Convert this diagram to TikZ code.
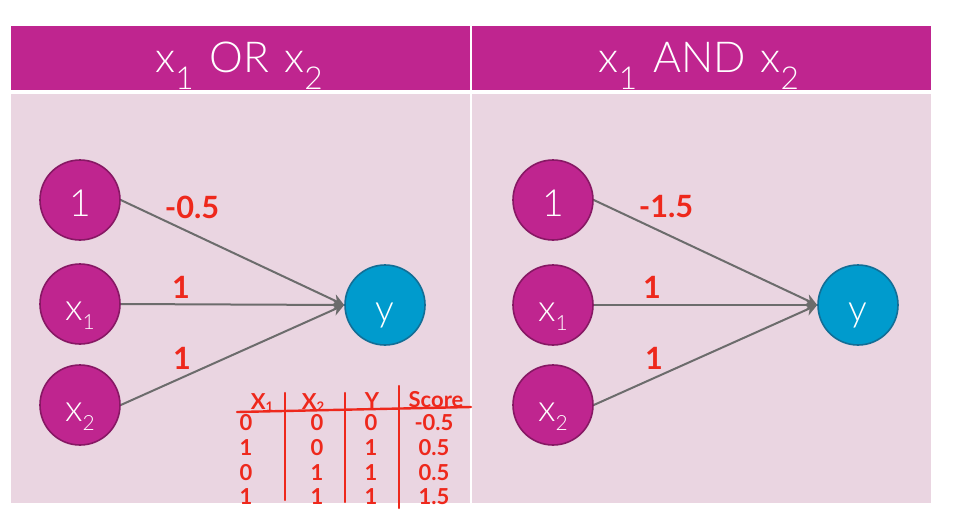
\documentclass[tikz,border=0pt]{standalone}
\usepackage{fontspec}
\setmainfont{Lato}
\newfontfamily\thinfont{Lato Light}
\usetikzlibrary{arrows.meta}
\definecolor{plum}{RGB}{191,37,143}
\definecolor{plumdark}{RGB}{135,24,100}
\definecolor{panelpink}{RGB}{234,213,225}
\definecolor{sky}{RGB}{0,155,205}
\definecolor{skydark}{RGB}{18,110,150}
\definecolor{ink}{RGB}{238,40,28}
\definecolor{wiregray}{RGB}{108,108,108}
\newcommand{\hsub}[1]{\raisebox{-0.42em}{\scalebox{0.74}{#1}}}
\newcommand{\nsub}[1]{\raisebox{-0.25em}{\scalebox{0.56}{#1}}}
\newcommand{\tsub}[1]{\raisebox{-0.1em}{\scalebox{0.6}{#1}}}

\begin{document}
\begin{tikzpicture}[x=0.75pt,y=-0.75pt,
  neuron/.style={circle,draw=plumdark,fill=plum,line width=1.2pt,minimum size=60pt,
    inner sep=0pt,text=white,font=\thinfont\fontsize{28}{32}\selectfont,text height=24pt,text depth=0pt},
  outneuron/.style={neuron,draw=skydark,fill=sky},
  link/.style={draw=wiregray,line width=1.5pt,-{Stealth[length=9pt,width=9pt]}},
  weight/.style={text=ink,font=\bfseries\fontsize{23}{26}\selectfont,anchor=base,inner sep=0pt},
  cell/.style={text=ink,font=\bfseries\fontsize{16.5}{19}\selectfont,anchor=base,inner sep=0pt},
  title/.style={text=white,font=\thinfont\fontsize{32}{36}\selectfont,anchor=base,inner sep=0pt}]
  \useasboundingbox (0,0) rectangle (953,522);
  % header bars and panels
  \fill[plum] (11,26) rectangle (470,90);
  \fill[plum] (472,26) rectangle (931,90);
  \fill[panelpink] (11,94) rectangle (470,503);
  \fill[panelpink] (472,94) rectangle (931,503);
  \node[title] (tOr) at (239,72) {x\hsub{1}\hspace{0.1em} OR\hspace{0.08em} x\hsub{2}};
  \node[title] (tAnd) at (699,72) {x\hsub{1}\hspace{0.1em} AND\hspace{0.08em} x\hsub{2}};
  % OR perceptron
  \node[neuron] (bL) at (80,200) {1};
  \node[neuron] (xaL) at (80,304) {x\nsub{1}};
  \node[neuron] (xbL) at (80,405) {x\nsub{2}};
  \node[outneuron] (yL) at (385,305) {y};
  \foreach \n in {bL,xaL,xbL} \draw[link] (\n.east) -- (yL.west);
  \node[weight] (wbL) at (192,218) {-0.5};
  \node[weight] (waL) at (181,298) {1};
  \node[weight] (wcL) at (182,369) {1};
  % AND perceptron
  \node[neuron] (bR) at (553,200) {1};
  \node[neuron] (xaR) at (553,305) {x\nsub{1}};
  \node[neuron] (xbR) at (553,405) {x\nsub{2}};
  \node[outneuron] (yR) at (858,305) {y};
  \foreach \n in {bR,xaR,xbR} \draw[link] (\n.east) -- (yR.west);
  \node[weight] (wbR) at (666,217) {-1.5};
  \node[weight] (waR) at (652,298) {1};
  \node[weight] (wcR) at (654,369) {1};
  % truth table for OR
  \draw[ink,line width=1.8pt,line cap=round] (237,412) -- (471,407);
  \draw[ink,line width=1.8pt,line cap=round] (285,393) -- (285,500);
  \draw[ink,line width=1.8pt,line cap=round] (345,393) -- (345,502);
  \draw[ink,line width=1.8pt,line cap=round] (399,386) -- (399,508);
  \node[cell] (hx1) at (262,409) {X\tsub{1}};
  \node[cell] (hx2) at (313,409) {X\tsub{2}};
  \node[cell] (hy) at (372,408) {Y};
  \node[cell] (hs) at (436,407) {Score};
  \foreach \r/\a/\b/\c/\s in {430/0/0/0/-0.5,455/1/0/1/0.5,480/0/1/1/0.5,504/1/1/1/1.5}{
    \node[cell] (a\r) at (246,\r) {\a};
    \node[cell] (b\r) at (317,\r) {\b};
    \node[cell] (c\r) at (371,\r) {\c};
    \node[cell] (s\r) at (434,\r) {\s};
  }
\end{tikzpicture}
\end{document}
